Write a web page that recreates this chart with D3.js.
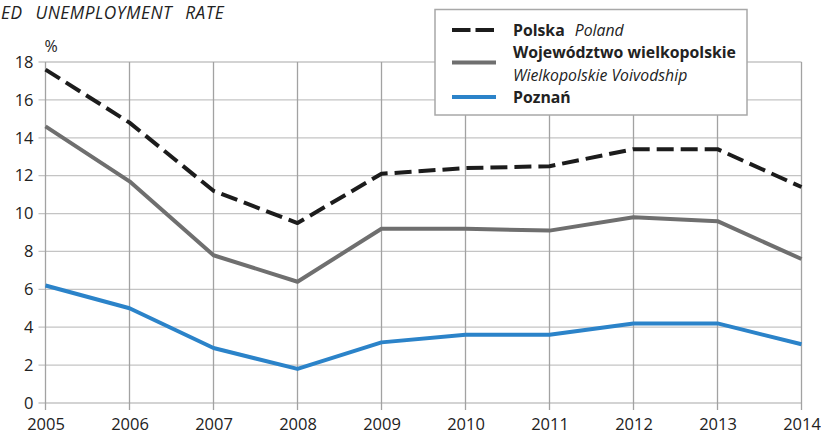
<!DOCTYPE html>
<html>
<head>
<meta charset="utf-8">
<script src="https://cdn.jsdelivr.net/npm/d3@7"></script>
<style>
  body { margin: 0; background: #fff; }
  svg { display: block; font-family: "Open Sans", "Noto Sans", sans-serif; }
</style>
</head>
<body>
<svg id="chart" width="821" height="437"></svg>
<script>
"use strict";

// data
const years = [2005, 2006, 2007, 2008, 2009, 2010, 2011, 2012, 2013, 2014];
const poland = [17.6, 14.8, 11.2, 9.5, 12.1, 12.4, 12.5, 13.4, 13.4, 11.4];
const wielkopolskie = [14.6, 11.7, 7.8, 6.4, 9.2, 9.2, 9.1, 9.8, 9.6, 7.6];
const poznan = [6.2, 5.0, 2.9, 1.8, 3.2, 3.6, 3.6, 4.2, 4.2, 3.1];
const yTicks = [0, 2, 4, 6, 8, 10, 12, 14, 16, 18];

const series = [
  { values: poland, color: "#1c1c1c", dash: "17,7", bold: "Polska", italic: "Poland" },
  { values: wielkopolskie, color: "#6f6f6f", dash: null, bold: "Województwo wielkopolskie", italic: "Wielkopolskie Voivodship" },
  { values: poznan, color: "#2b83c9", dash: null, bold: "Poznań", italic: null }
];

const svg = d3.select("#chart");
const mLeft = 45.5, mRight = 801.5, mTop = 62, mBottom = 403;

const x = d3.scaleLinear().domain([2005, 2014]).range([mLeft, mRight]);
const y = d3.scaleLinear().domain([0, 18]).range([mBottom, mTop]);

// title, only the part that shows in the frame
svg.append("text")
  .attr("x", 1).attr("y", 18.5)
  .attr("font-style", "italic")
  .attr("font-size", 17.3)
  .attr("letter-spacing", 0.5)
  .attr("word-spacing", 8)
  .attr("fill", "#222")
  .text("ED UNEMPLOYMENT RATE");

// grid
const grid = svg.append("g");
grid.selectAll("line.h")
  .data(yTicks)
  .enter().append("line")
  .attr("class", "h")
  .attr("x1", mLeft - 7).attr("x2", mRight)
  .attr("y1", d => y(d)).attr("y2", d => y(d))
  .attr("stroke", "#c4c4c4").attr("stroke-width", 1.3);

grid.selectAll("line.v")
  .data(years)
  .enter().append("line")
  .attr("class", "v")
  .attr("x1", d => x(d)).attr("x2", d => x(d))
  .attr("y1", mTop).attr("y2", mBottom + 7)
  .attr("stroke", "#a2a2a2").attr("stroke-width", 1.3);

// axes labels
const yAxis = d3.axisLeft(y).tickValues(yTicks).tickSize(0).tickPadding(12);
svg.append("g")
  .attr("transform", "translate(" + mLeft + ",0)")
  .call(yAxis)
  .call(g => g.select(".domain").remove())
  .call(g => g.selectAll("text").attr("font-size", 16.5).attr("fill", "#222")
    .attr("font-family", "Open Sans"));

const xAxis = d3.axisBottom(x).tickValues(years).tickFormat(d3.format("d")).tickSize(0).tickPadding(15);
svg.append("g")
  .attr("transform", "translate(0," + mBottom + ")")
  .call(xAxis)
  .call(g => g.select(".domain").remove())
  .call(g => g.selectAll("text").attr("font-size", 16.5).attr("fill", "#222")
    .attr("font-family", "Open Sans"));

svg.append("text")
  .attr("x", mLeft - 1).attr("y", 52)
  .attr("font-size", 16).attr("fill", "#222")
  .text("%");

// lines
const line = d3.line()
  .x((d, i) => x(years[i]))
  .y(d => y(d));

svg.append("g").selectAll("path")
  .data(series.slice().reverse())
  .enter().append("path")
  .attr("d", d => line(d.values))
  .attr("fill", "none")
  .attr("stroke", d => d.color)
  .attr("stroke-width", 4)
  .attr("stroke-dasharray", d => d.dash)
  .attr("stroke-linejoin", "round");

// legend
const legend = svg.append("g");
legend.append("rect")
  .attr("x", 435).attr("y", 9.5).attr("width", 312).attr("height", 105.5)
  .attr("fill", "#fff").attr("stroke", "#a8a8a8").attr("stroke-width", 1.5);

const rowY = [30, 62.5, 97];
const textY = [[35.5, null], [58, 80.5], [103, null]];

series.forEach((s, i) => {
  legend.append("line")
    .attr("x1", 452).attr("x2", 496)
    .attr("y1", rowY[i]).attr("y2", rowY[i])
    .attr("stroke", s.color).attr("stroke-width", 4)
    .attr("stroke-dasharray", s.dash ? "18.5,5" : null);

  const t = legend.append("text")
    .attr("x", 513).attr("y", textY[i][0])
    .attr("font-size", 15.8).attr("fill", "#222");
  t.append("tspan").attr("font-weight", "bold").text(s.bold);
  if (s.italic && textY[i][1] === null) {
    t.append("tspan").attr("font-style", "italic").attr("dx", 10).text(s.italic);
  } else if (s.italic) {
    legend.append("text")
      .attr("x", 513).attr("y", textY[i][1])
      .attr("font-size", 15.8).attr("font-style", "italic").attr("fill", "#222")
      .text(s.italic);
  }
});
</script>
</body>
</html>
